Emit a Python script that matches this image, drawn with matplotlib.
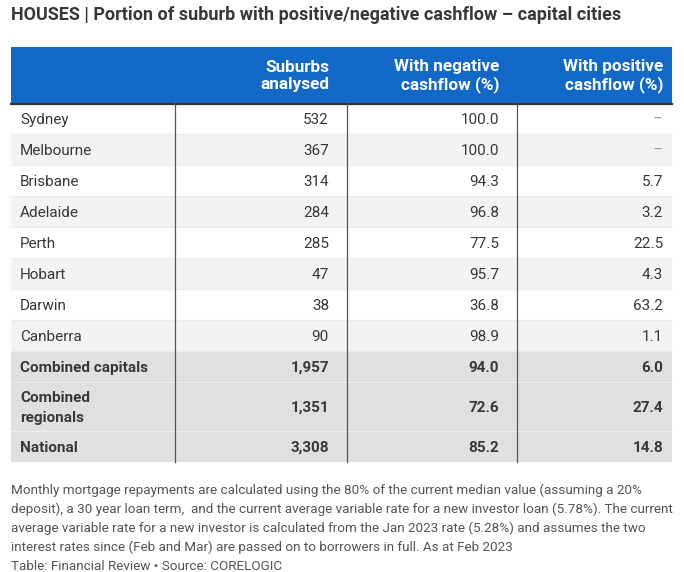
import matplotlib.pyplot as plt
from matplotlib.patches import Rectangle

plt.rcParams['font.family'] = ['Roboto', 'DejaVu Sans']

TITLE = "HOUSES | Portion of suburb with positive/negative cashflow \u2013 capital cities"
HEADERS = ["", "Suburbs\nanalysed", "With negative\ncashflow (%)", "With positive\ncashflow (%)"]

cities = ["Sydney", "Melbourne", "Brisbane", "Adelaide", "Perth", "Hobart", "Darwin",
          "Canberra", "Combined capitals", "Combined\nregionals", "National"]
suburbs = ["532", "367", "314", "284", "285", "47", "38", "90", "1,957", "1,351", "3,308"]
negative = ["100.0", "100.0", "94.3", "96.8", "77.5", "95.7", "36.8", "98.9", "94.0", "72.6", "85.2"]
positive = ["\u2013", "\u2013", "5.7", "3.2", "22.5", "4.3", "63.2", "1.1", "6.0", "27.4", "14.8"]
summary = [False] * 8 + [True] * 3

NOTE = ("Monthly mortgage repayments are calculated using the 80% of the current median value (assuming a 20%\n"
        "deposit), a 30 year loan term,  and the current average variable rate for a new investor loan (5.78%). The current\n"
        "average variable rate for a new investor is calculated from the Jan 2023 rate (5.28%) and assumes the two\n"
        "interest rates since (Feb and Mar) are passed on to borrowers in full. As at Feb 2023")
SOURCE = "Table: Financial Review \u2022 Source: CORELOGIC"

W, H = 684, 572
fig = plt.figure(figsize=(W / 100, H / 100), dpi=100)
ax = fig.add_axes([0, 0, 1, 1])
ax.set_xlim(0, W)
ax.set_ylim(H, 0)
ax.axis('off')
renderer = fig.canvas.get_renderer()


def fit_width(t, target):
    # shrink/grow the font so the text spans the same width as in the reference
    w = t.get_window_extent(renderer).width
    t.set_fontsize(t.get_fontsize() * target / w)


col_edges = [11, 175, 347, 517, 672]
text_right = [329, 499, 663]  # right edge of the numbers in each column
header_top, header_bot = 47, 103
row_h = [31] * 9 + [49, 31]

blue = '#1268c6'
text_c = '#383838'

title = ax.text(11, 15, TITLE, fontsize=12, fontweight='bold', color=text_c, va='center', ha='left')
fit_width(title, 607)

ax.add_patch(Rectangle((col_edges[0], header_top), col_edges[-1] - col_edges[0],
                       header_bot - header_top, color=blue, lw=0))
for j in range(1, 4):
    ax.text(text_right[j - 1], (header_top + header_bot) / 2 + 1, HEADERS[j], ha='right',
            va='center', color='white', fontsize=12.3, fontweight='bold', linespacing=1.15)

y = header_bot
for i, city in enumerate(cities):
    h = row_h[i]
    if summary[i]:
        fc = '#e0e0e0'
    elif i % 2 == 1:
        fc = '#f3f3f3'
    else:
        fc = '#ffffff'
    ax.add_patch(Rectangle((col_edges[0], y), col_edges[-1] - col_edges[0], h, color=fc, lw=0))
    ax.plot([col_edges[0], col_edges[-1]], [y, y], color='#ececec', lw=0.8)
    cy = y + h / 2 + 1.5
    wt = 'bold' if summary[i] else 'normal'
    ax.text(20, cy, city, ha='left', va='center', fontsize=11, color=text_c, fontweight=wt,
            linespacing=1.5)
    for j, vals in enumerate([suburbs, negative, positive]):
        c = '#999999' if vals[i] == "\u2013" else text_c
        ax.text(text_right[j], cy, vals[i], ha='right', va='center', fontsize=11,
                color=c, fontweight=wt)
    y += h

table_bot = y
ax.plot([col_edges[0], col_edges[-1]], [header_bot + 0.5, header_bot + 0.5], color='#333333', lw=1.6)
for x in col_edges[1:4]:
    ax.plot([x, x], [header_bot, table_bot], color='#555555', lw=0.9)

note = ax.text(11, 484, NOTE, ha='left', va='top', fontsize=9.5, color='#555555', linespacing=1.52)
fit_width(note, 664)
ax.text(11, 566, SOURCE, ha='left', va='center', fontsize=note.get_fontsize(), color='#555555')

fig.savefig('out.png', dpi=100)
